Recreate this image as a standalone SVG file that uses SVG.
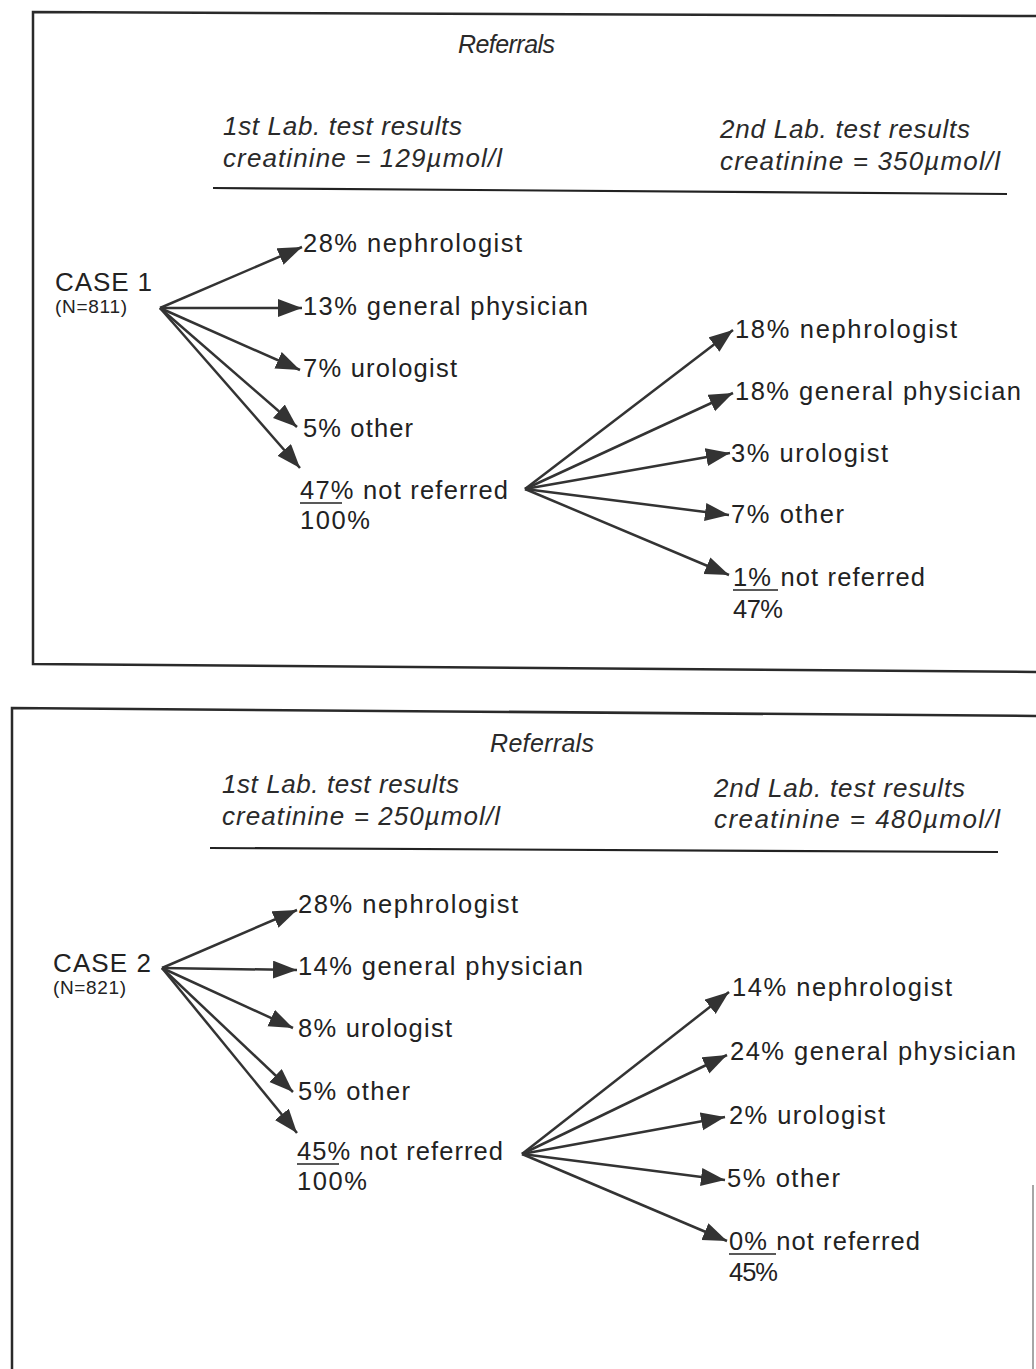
<svg xmlns="http://www.w3.org/2000/svg" width="1036" height="1369" viewBox="0 0 1036 1369">
<style>
.frame{fill:none;stroke:#2a2a2a;stroke-width:2.5}
.rule{stroke:#222;stroke-width:2.2}
.hd{font-family:"Liberation Sans",Arial,sans-serif;font-style:italic;font-size:26px;fill:#2a2a2a}
.tt{font-family:"Liberation Sans",Arial,sans-serif;font-style:italic;font-size:25px;fill:#2a2a2a}
.lb{font-family:"Liberation Sans",Arial,sans-serif;font-size:25.5px;fill:#222}
.case{font-family:"Liberation Sans",Arial,sans-serif;font-size:26px;fill:#222}
.n{font-family:"Liberation Sans",Arial,sans-serif;font-size:19px;fill:#222}
.ul{stroke:#222;stroke-width:1.6}
.arr{stroke:#333;stroke-width:2.5;fill:none;marker-end:url(#ah)}
</style>
<defs>
<marker id="ah" markerUnits="userSpaceOnUse" markerWidth="25" markerHeight="19" refX="24" refY="9" orient="auto">
<path d="M0,0 L24,9 L0,18 z" fill="#333"/>
</marker>
</defs>
<rect x="0" y="0" width="1036" height="1369" fill="#ffffff"/>

<g id="frames">
<polyline class="frame" points="1036,16 33,12 33,664 1036,672"/>
<polyline class="frame" points="1036,716 12,708 12,1369"/>
<line x1="1033" y1="1185" x2="1033" y2="1369" stroke="#888" stroke-width="1.5"/>
</g>

<!-- CASE 1 -->
<g id="case1-header">
<text class="tt" x="458" y="53" textLength="97">Referrals</text>
<text class="hd" x="223" y="135" textLength="239">1st Lab. test results</text>
<text class="hd" x="223" y="167" textLength="279">creatinine = 129µmol/l</text>
<text class="hd" x="720" y="138" textLength="250">2nd Lab. test results</text>
<text class="hd" x="720" y="170" textLength="280">creatinine = 350µmol/l</text>
<line class="rule" x1="213" y1="188" x2="1007" y2="194"/>
</g>
<g id="case1"><text class="case" x="55" y="291" textLength="97">CASE 1</text><text class="n" x="55" y="313" textLength="72">(N=811)</text></g>
<g id="c1-a1"><text class="lb" x="303" y="252" textLength="219">28% nephrologist</text></g>
<g id="c1-a2"><text class="lb" x="303" y="315" textLength="285">13% general physician</text></g>
<g id="c1-a3"><text class="lb" x="303" y="377" textLength="154">7% urologist</text></g>
<g id="c1-a4"><text class="lb" x="303" y="437" textLength="110">5% other</text></g>
<g id="c1-a5"><text class="lb" x="300" y="499" textLength="208">47% not referred</text><line class="ul" x1="300" y1="503" x2="342" y2="503"/><text class="lb" x="300" y="529" textLength="70">100%</text></g>
<g id="c1-b1"><text class="lb" x="735" y="338" textLength="222">18% nephrologist</text></g>
<g id="c1-b2"><text class="lb" x="735" y="400" textLength="286">18% general physician</text></g>
<g id="c1-b3"><text class="lb" x="731" y="462" textLength="157">3% urologist</text></g>
<g id="c1-b4"><text class="lb" x="731" y="523" textLength="113">7% other</text></g>
<g id="c1-b5"><text class="lb" x="733" y="586" textLength="192">1% not referred</text><line class="ul" x1="733" y1="590" x2="778" y2="590"/><text class="lb" x="733" y="618" textLength="50">47%</text></g>

<!-- CASE 2 -->
<g id="case2-header">
<text class="tt" x="490" y="752" textLength="104">Referrals</text>
<text class="hd" x="222" y="793" textLength="237">1st Lab. test results</text>
<text class="hd" x="222" y="825" textLength="278">creatinine = 250µmol/l</text>
<text class="hd" x="714" y="797" textLength="251">2nd Lab. test results</text>
<text class="hd" x="714" y="828" textLength="286">creatinine = 480µmol/l</text>
<line class="rule" x1="210" y1="848" x2="998" y2="852"/>
</g>
<g id="case2"><text class="case" x="53" y="972" textLength="98">CASE 2</text><text class="n" x="53" y="994" textLength="73">(N=821)</text></g>
<g id="c2-a1"><text class="lb" x="298" y="913" textLength="220">28% nephrologist</text></g>
<g id="c2-a2"><text class="lb" x="298" y="975" textLength="285">14% general physician</text></g>
<g id="c2-a3"><text class="lb" x="298" y="1037" textLength="154">8% urologist</text></g>
<g id="c2-a4"><text class="lb" x="298" y="1100" textLength="112">5% other</text></g>
<g id="c2-a5"><text class="lb" x="297" y="1160" textLength="206">45% not referred</text><line class="ul" x1="297" y1="1164" x2="339" y2="1164"/><text class="lb" x="297" y="1190" textLength="70">100%</text></g>
<g id="c2-b1"><text class="lb" x="732" y="996" textLength="220">14% nephrologist</text></g>
<g id="c2-b2"><text class="lb" x="730" y="1060" textLength="286">24% general physician</text></g>
<g id="c2-b3"><text class="lb" x="729" y="1124" textLength="156">2% urologist</text></g>
<g id="c2-b4"><text class="lb" x="727" y="1187" textLength="113">5% other</text></g>
<g id="c2-b5"><text class="lb" x="729" y="1250" textLength="191">0% not referred</text><line class="ul" x1="729" y1="1254" x2="776" y2="1254"/><text class="lb" x="729" y="1281" textLength="49">45%</text></g>

<g id="connectors">
<line class="arr" x1="160" y1="308" x2="302" y2="247"/>
<line class="arr" x1="160" y1="308" x2="302" y2="308"/>
<line class="arr" x1="160" y1="308" x2="300" y2="370"/>
<line class="arr" x1="160" y1="308" x2="297" y2="427"/>
<line class="arr" x1="160" y1="308" x2="300" y2="468"/>
<line class="arr" x1="525" y1="489" x2="733" y2="330"/>
<line class="arr" x1="525" y1="489" x2="733" y2="393"/>
<line class="arr" x1="525" y1="489" x2="730" y2="453"/>
<line class="arr" x1="525" y1="489" x2="729" y2="515"/>
<line class="arr" x1="525" y1="489" x2="729" y2="575"/>
<line class="arr" x1="162" y1="968" x2="297" y2="910"/>
<line class="arr" x1="162" y1="968" x2="297" y2="970"/>
<line class="arr" x1="162" y1="968" x2="293" y2="1028"/>
<line class="arr" x1="162" y1="968" x2="293" y2="1092"/>
<line class="arr" x1="162" y1="968" x2="297" y2="1133"/>
<line class="arr" x1="522" y1="1154" x2="729" y2="992"/>
<line class="arr" x1="522" y1="1154" x2="727" y2="1055"/>
<line class="arr" x1="522" y1="1154" x2="725" y2="1117"/>
<line class="arr" x1="522" y1="1154" x2="725" y2="1180"/>
<line class="arr" x1="522" y1="1154" x2="727" y2="1241"/>
</g>
</svg>
